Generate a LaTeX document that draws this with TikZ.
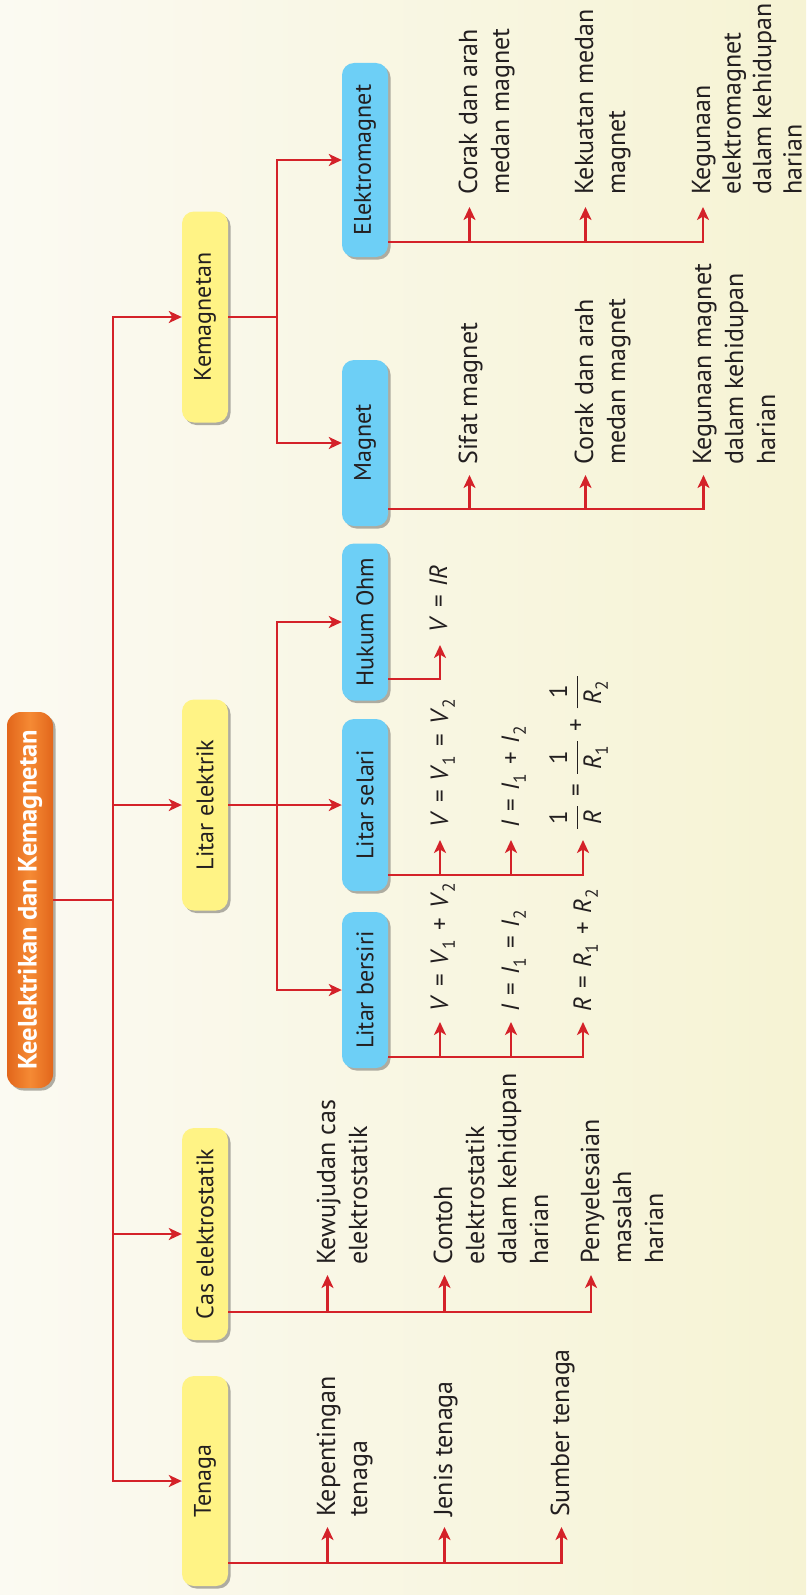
\documentclass[tikz,border=0pt]{standalone}
\usepackage{fontspec}
\setmainfont{PT Sans}
\usepackage{amsmath}
\usepackage{graphicx}
\usetikzlibrary{arrows.meta,shadows}

\definecolor{bgL}{HTML}{FBFAF2}
\definecolor{bgR}{HTML}{F6F3D4}
\definecolor{wire}{HTML}{D42229}
\definecolor{ink}{HTML}{231F20}
\definecolor{tierone}{HTML}{FFF385}
\definecolor{tiertwo}{HTML}{6DCFF6}
\definecolor{rootL}{HTML}{F58A34}
\definecolor{rootD}{HTML}{E2661B}
\definecolor{shade}{HTML}{9C9A90}

% stacked lines whose baseline is the first line
\newcommand\lines[1]{\begin{tabular}[t]{@{}l@{}}#1\end{tabular}}
\newcommand\vlabel[1]{\rotatebox{90}{#1}}
\newcommand\fr[2]{$\dfrac{\mbox{\,#1\,}}{\mbox{\,#2\,}}$}
\newcommand\iv[1]{\textit{#1}}
\newcommand\ix[1]{\raisebox{-.12em}{\textsubscript{#1}}}
\newcommand\op[1]{\hspace{.35em}#1\hspace{.35em}}
% arrow from a bus line up to the start of a leaf text
\newcommand\feed[4]{\draw[arr] ([xshift=#3]#1.base west |- #2) -- ([xshift=#3,yshift=-#4]#1.base west);}
% bus line leaving a box and turning up into its last leaf
\newcommand\feedend[5]{\draw[arr] (#5.east |- #2) -| ([xshift=#3,yshift=-#4]#1.base west);}

\begin{document}
\begin{tikzpicture}[x=1pt,y=-1pt,
  wirestyle/.style={draw=wire,line width=2.4pt},
  arr/.style={wirestyle,-{Stealth[length=13pt,width=12pt,inset=3.5pt]}},
  box/.style={rounded corners=12pt,minimum width=46pt,inner sep=0pt,text=ink,
    font=\fontsize{24}{30}\selectfont,
    drop shadow={shadow xshift=2.5pt,shadow yshift=-2.5pt,fill=shade,opacity=.8}},
  yellowbox/.style={box,fill=tierone},
  bluebox/.style={box,fill=tiertwo},
  rootbox/.style={box,left color=rootD,right color=rootD,middle color=rootL,
    text=white,font=\fontsize{26.5}{30}\selectfont\bfseries,rounded corners=14pt},
  leaf/.style={rotate=90,anchor=base west,inner sep=0pt,text=ink,
    font=\fontsize{26}{32}\selectfont},
  formula/.style={leaf,font=\fontsize{25}{30}\selectfont}]

% page and background
\useasboundingbox (0,0) rectangle (806,1595);
\fill[left color=bgL,right color=bgR] (0,0) rectangle (806,1595);

% root
\node[rootbox,minimum height=376pt] (title) at (30,900) {\vlabel{Keelektrikan dan Kemagnetan}};

% first tier
\node[yellowbox,minimum height=211pt] (kem) at (205,317)  {\vlabel{Kemagnetan}};
\node[yellowbox,minimum height=211pt] (lit) at (205,805)  {\vlabel{Litar elektrik}};
\node[yellowbox,minimum height=212pt] (cas) at (205,1234) {\vlabel{Cas elektrostatik}};
\node[yellowbox,minimum height=210pt] (ten) at (205,1481) {\vlabel{Tenaga}};

% second tier
\node[bluebox,minimum height=194pt] (em)  at (365,160) {\vlabel{Elektromagnet}};
\node[bluebox,minimum height=166pt] (mag) at (365,443) {\vlabel{Magnet}};
\node[bluebox,minimum height=157pt] (ohm) at (365,622) {\vlabel{Hukum Ohm}};
\node[bluebox,minimum height=172pt] (sel) at (365,805) {\vlabel{Litar selari}};
\node[bluebox,minimum height=156pt] (ser) at (365,990) {\vlabel{Litar bersiri}};

% trunk
\coordinate (j) at (113,900);
\draw[wirestyle] (title.east) -- (j);
\draw[arr] (j) |- (kem.west);
\draw[arr] (j) |- (lit.west);
\draw[arr] (j) |- (cas.west);
\draw[arr] (j) |- (ten.west);

% Kemagnetan branch
\coordinate (kj) at (277,317);
\draw[wirestyle] (kem.east) -- (kj);
\draw[arr] (kj) |- (em.west);
\draw[arr] (kj) |- (mag.west);

% Litar elektrik branch
\coordinate (lj) at (277,805);
\draw[arr] (lit.east) -- (sel.west);
\draw[arr] (lj) |- (ohm.west);
\draw[arr] (lj) |- (ser.west);

% leaves: Elektromagnet
\node[leaf] (em1) at (477,195) {\lines{Corak dan arah\\medan magnet}};
\node[leaf] (em2) at (593,195) {\lines{Kekuatan medan\\magnet}};
\node[leaf,font=\fontsize{26}{30.5}\selectfont] (em3) at (710,195)
  {\lines{Kegunaan\\elektromagnet\\dalam kehidupan\\harian}};
\coordinate (emBus) at (0,242);
\feedend{em3}{emBus}{-7pt}{12pt}{em}
\feed{em1}{emBus}{-7.5pt}{12pt}
\feed{em2}{emBus}{-7.5pt}{12pt}

% leaves: Magnet
\node[leaf] (mag1) at (477,465) {\lines{Sifat magnet}};
\node[leaf] (mag2) at (593,465) {\lines{Corak dan arah\\medan magnet}};
\node[leaf] (mag3) at (711,465) {\lines{Kegunaan magnet\\dalam kehidupan\\harian}};
\coordinate (magBus) at (0,509);
\feedend{mag3}{magBus}{-7.5pt}{10pt}{mag}
\feed{mag1}{magBus}{-7.5pt}{10pt}
\feed{mag2}{magBus}{-7.5pt}{10pt}

% leaves: Hukum Ohm
\node[formula] (ohm1) at (447,633) {\iv{V}\op{=}\iv{IR}};
\coordinate (ohmBus) at (0,679);
\feedend{ohm1}{ohmBus}{-7pt}{12pt}{ohm}

% leaves: Litar selari
\node[formula] (sel1) at (448,828) {\iv{V}\op{=}\iv{V}\ix{1}\op{=}\iv{V}\ix{2}};
\node[formula] (sel2) at (519,828) {\iv{I}\op{=}\iv{I}\ix{1}\op{+}\iv{I}\ix{2}};
\node[formula] (sel3) at (584,830) {\fr{1}{\iv{R}}\op{=}\fr{1}{\iv{R}\ix{1}}\op{+}\fr{1}{\iv{R}\ix{2}}};
\coordinate (selBus) at (0,875);
\feedend{sel3}{selBus}{-1pt}{10pt}{sel}
\feed{sel1}{selBus}{-8pt}{12pt}
\feed{sel2}{selBus}{-8pt}{12pt}

% leaves: Litar bersiri
\node[formula] (ser1) at (448,1012) {\iv{V}\op{=}\iv{V}\ix{1}\op{+}\iv{V}\ix{2}};
\node[formula] (ser2) at (519,1012) {\iv{I}\op{=}\iv{I}\ix{1}\op{=}\iv{I}\ix{2}};
\node[formula] (ser3) at (591,1012) {\iv{R}\op{=}\iv{R}\ix{1}\op{+}\iv{R}\ix{2}};
\coordinate (serBus) at (0,1057);
\feedend{ser3}{serBus}{-8pt}{10pt}{ser}
\feed{ser1}{serBus}{-8pt}{10pt}
\feed{ser2}{serBus}{-8pt}{10pt}

% leaves: Cas elektrostatik
\node[leaf] (cas1) at (335,1265) {\lines{Kewujudan cas\\elektrostatik}};
\node[leaf] (cas2) at (452,1265) {\lines{Contoh\\elektrostatik\\dalam kehidupan\\harian}};
\node[leaf] (cas3) at (599,1264) {\lines{Penyelesaian\\masalah\\harian}};
\coordinate (casBus) at (0,1312);
\feedend{cas3}{casBus}{-8pt}{11pt}{cas}
\feed{cas1}{casBus}{-7.5pt}{10pt}
\feed{cas2}{casBus}{-7.5pt}{10pt}

% leaves: Tenaga
\node[leaf] (ten1) at (335,1517) {\lines{Kepentingan\\tenaga}};
\node[leaf] (ten2) at (452,1517) {\lines{Jenis tenaga}};
\node[leaf] (ten3) at (569,1517) {\lines{Sumber tenaga}};
\coordinate (tenBus) at (0,1563);
\feedend{ten3}{tenBus}{-7.5pt}{10pt}{ten}
\feed{ten1}{tenBus}{-7.5pt}{10pt}
\feed{ten2}{tenBus}{-7.5pt}{10pt}
\end{tikzpicture}
\end{document}
